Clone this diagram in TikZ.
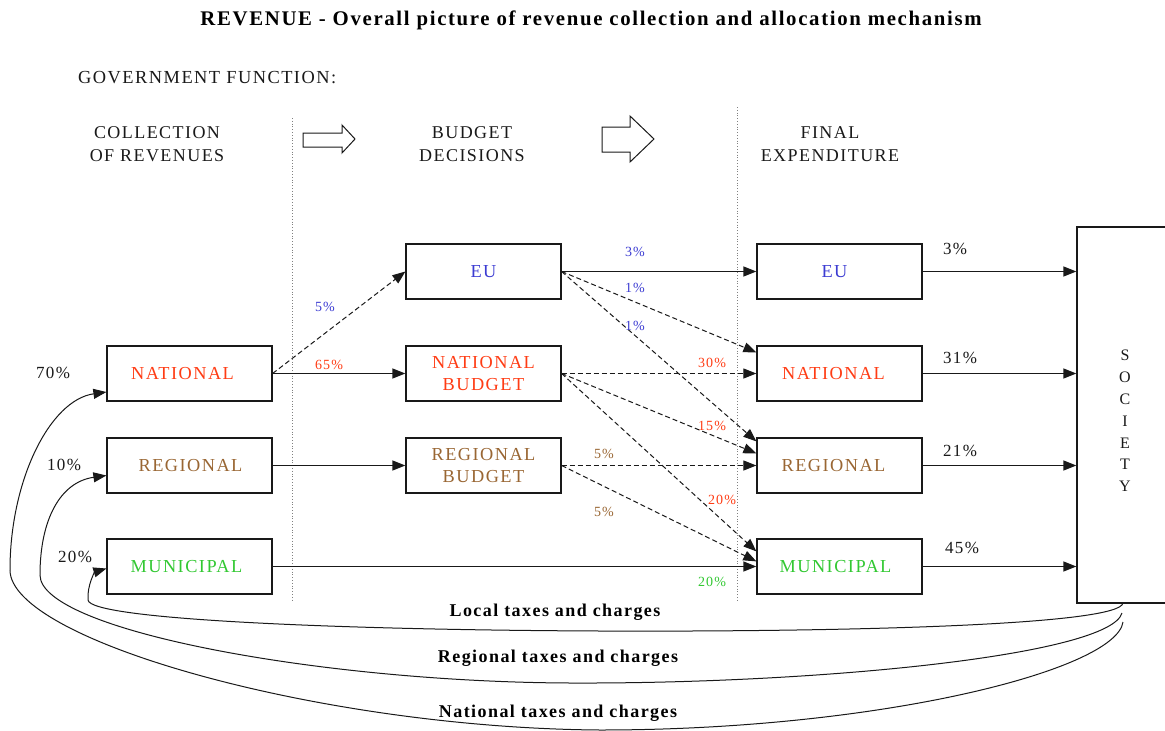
\documentclass[tikz,border=0pt]{standalone}
\usepackage{fontspec}
\setmainfont{Liberation Serif}[LetterSpace=8]
\usetikzlibrary{arrows.meta,calc}
\definecolor{cblue}{RGB}{60,60,210}
\definecolor{cred}{RGB}{255,60,20}
\definecolor{cbrown}{RGB}{153,102,51}
\definecolor{cgreen}{RGB}{50,200,50}
\definecolor{cline}{RGB}{25,25,25}
\begin{document}
\begin{tikzpicture}[x=1pt,y=-1pt,
  box/.style={draw=cline,line width=1.2pt,minimum height=55pt,inner sep=0pt,align=center,font=\fontsize{18.3}{22}\selectfont},
  wbox/.style={box,minimum width=165pt},
  nbox/.style={box,minimum width=155pt},
  conn/.style={draw=cline,line width=1.2pt,-{Triangle[length=13pt,width=10pt]}},
  dconn/.style={conn,dash pattern=on 5pt off 3pt,line width=1pt},
  pct/.style={font=\fontsize{14}{16}\selectfont},
  bpct/.style={font=\fontsize{17}{20}\selectfont,text=cline},
  hdr/.style={font=\fontsize{18}{23}\selectfont,align=center,text=cline},
  tax/.style={font=\bfseries\fontsize{18}{20}\selectfont,text=black},
  sep/.style={draw=gray,line width=0.8pt,dotted},
  hollow/.style={draw=cline,line width=1pt}
]
\useasboundingbox (0,0) rectangle (1165,731);

% title and headers
\node[font=\bfseries\fontsize{20.8}{24}\selectfont] (title) at (591,20) {REVENUE - Overall picture of revenue collection and allocation mechanism};
\node[hdr,anchor=west,inner sep=0pt,font=\fontsize{18.4}{23}\selectfont] (gov) at (78,78) {GOVERNMENT FUNCTION:};
\node[hdr] (h1) at (157,144.5) {COLLECTION\\OF REVENUES};
\node[hdr] (h2) at (472,144.5) {BUDGET\\DECISIONS};
\node[hdr] (h3) at (830,144.5) {FINAL\\EXPENDITURE};

% separators
\draw[sep] (292,118) -- (292,602);
\draw[sep] (737,107) -- (737,602);

% hollow arrows
\draw[hollow] (303,133) -- (342,133) -- (342,125) -- (355,139) -- (342,153) -- (342,147) -- (303,147) -- cycle;
\draw[hollow] (602,127) -- (630,127) -- (630,116) -- (654,139) -- (630,162) -- (630,152) -- (602,152) -- cycle;

% collection boxes
\node[wbox,text=cred] (cnat) at (189.5,373.5) {\raisebox{-7pt}{\hspace*{-14pt}NATIONAL}};
\node[wbox,text=cbrown] (creg) at (189.5,465.5) {\hspace*{2pt}REGIONAL};
\node[wbox,text=cgreen] (cmun) at (189.5,566.5) {\hspace*{-6pt}MUNICIPAL};

% budget boxes
\node[nbox,text=cblue] (eu) at (483.5,271.5) {EU};
\node[nbox,text=cred] (nb) at (483.5,373.5) {NATIONAL\\BUDGET};
\node[nbox,text=cbrown] (rb) at (483.5,465.5) {REGIONAL\\BUDGET};

% final boxes
\node[wbox,text=cblue] (feu) at (839.5,271.5) {\hspace*{-10pt}EU};
\node[wbox,text=cred] (fnat) at (839.5,373.5) {\raisebox{-7pt}{\hspace*{-12pt}NATIONAL}};
\node[wbox,text=cbrown] (freg) at (839.5,465.5) {\hspace*{-12pt}REGIONAL};
\node[wbox,text=cgreen] (fmun) at (839.5,566.5) {\hspace*{-8pt}MUNICIPAL};

% society
\node[draw=cline,line width=1.2pt,minimum width=98pt,minimum height=376pt,inner sep=0pt] (soc) at (1126,415) {};
\node[font=\fontsize{16}{21.8}\selectfont,align=center,text=cline] (soctext) at (1125,421)
      {S\\O\\C\\I\\E\\T\\Y};

% collection -> budget
\draw[dconn] (cnat.east) -- (eu.west);
\draw[conn] (cnat.east) -- (nb.west);
\draw[conn] (creg.east) -- (rb.west);
\draw[conn] (cmun.east) -- (fmun.west);

% budget -> final
\draw[conn] (eu.east) -- (feu.west);
\draw[dconn] (eu.east) -- ([yshift=-7pt]fnat.north west);
\draw[dconn] (eu.east) -- ([yshift=-4pt]freg.north west);
\draw[dconn] (nb.east) -- (fnat.west);
\draw[dconn] (nb.east) -- ([yshift=-16pt]freg.north west);
\draw[dconn] (nb.east) -- ([yshift=-13pt]fmun.north west);
\draw[dconn] (rb.east) -- (freg.west);
\draw[dconn] (rb.east) -- ([yshift=-23pt]fmun.north west);

% final -> society
\draw[conn] (feu.east) -- (feu.east -| soc.west);
\draw[conn] (fnat.east) -- (fnat.east -| soc.west);
\draw[conn] (freg.east) -- (freg.east -| soc.west);
\draw[conn] (fmun.east) -- (fmun.east -| soc.west);

% tax flows
\coordinate (s1) at (1123,603);
\coordinate (s2) at (1122,613);
\coordinate (s3) at (1123,622);
\draw[conn,line width=1pt] (s1) .. controls (1120,625) and (850,632) .. (600,631)
   .. controls (350,630) and (90,620) .. (88,600)
   .. controls (87,585) and (95,572) .. ([yshift=-2pt]cmun.west);
\draw[conn,line width=1pt] (s2) .. controls (1110,655) and (820,684) .. (570,683)
   .. controls (320,682) and (40,630) .. (40,575)
   .. controls (40,520) and (60,482) .. ([yshift=-10pt]creg.west);
\draw[conn,line width=1pt] (s3) .. controls (1116,670) and (880,730) .. (600,730)
   .. controls (320,728) and (10,640) .. (10,570)
   .. controls (10,480) and (50,400) .. ([yshift=-18.5pt]cnat.west);

\node[tax] (t1) at (555,612) {Local taxes and charges};
\node[tax] (t2) at (558,658) {Regional taxes and charges};
\node[tax] (t3) at (558,713) {National taxes and charges};

% percentages, left
\node[bpct] (p70) at (53,373) {70\%};
\node[bpct] (p10) at (64,465) {10\%};
\node[bpct] (p20) at (75,557) {20\%};
% percentages, right
\node[bpct] (q3) at (955,249) {3\%};
\node[bpct] (q31) at (960,358) {31\%};
\node[bpct] (q21) at (960,451) {21\%};
\node[bpct] (q45) at (962,548) {45\%};
% percentages, flows
\node[pct,text=cblue] (a5) at (325,307) {5\%};
\node[pct,text=cred] (a65) at (329,365) {65\%};
\node[pct,text=cblue] (b3) at (635,252) {3\%};
\node[pct,text=cblue] (b1a) at (635,288) {1\%};
\node[pct,text=cblue] (b1b) at (635,326) {1\%};
\node[pct,text=cred] (b30) at (712,363) {30\%};
\node[pct,text=cred] (b15) at (712,426) {15\%};
\node[pct,text=cred] (b20) at (722,500) {20\%};
\node[pct,text=cbrown] (c5a) at (604,454) {5\%};
\node[pct,text=cbrown] (c5b) at (604,512) {5\%};
\node[pct,text=cgreen] (d20) at (712,582) {20\%};
\end{tikzpicture}
\end{document}
